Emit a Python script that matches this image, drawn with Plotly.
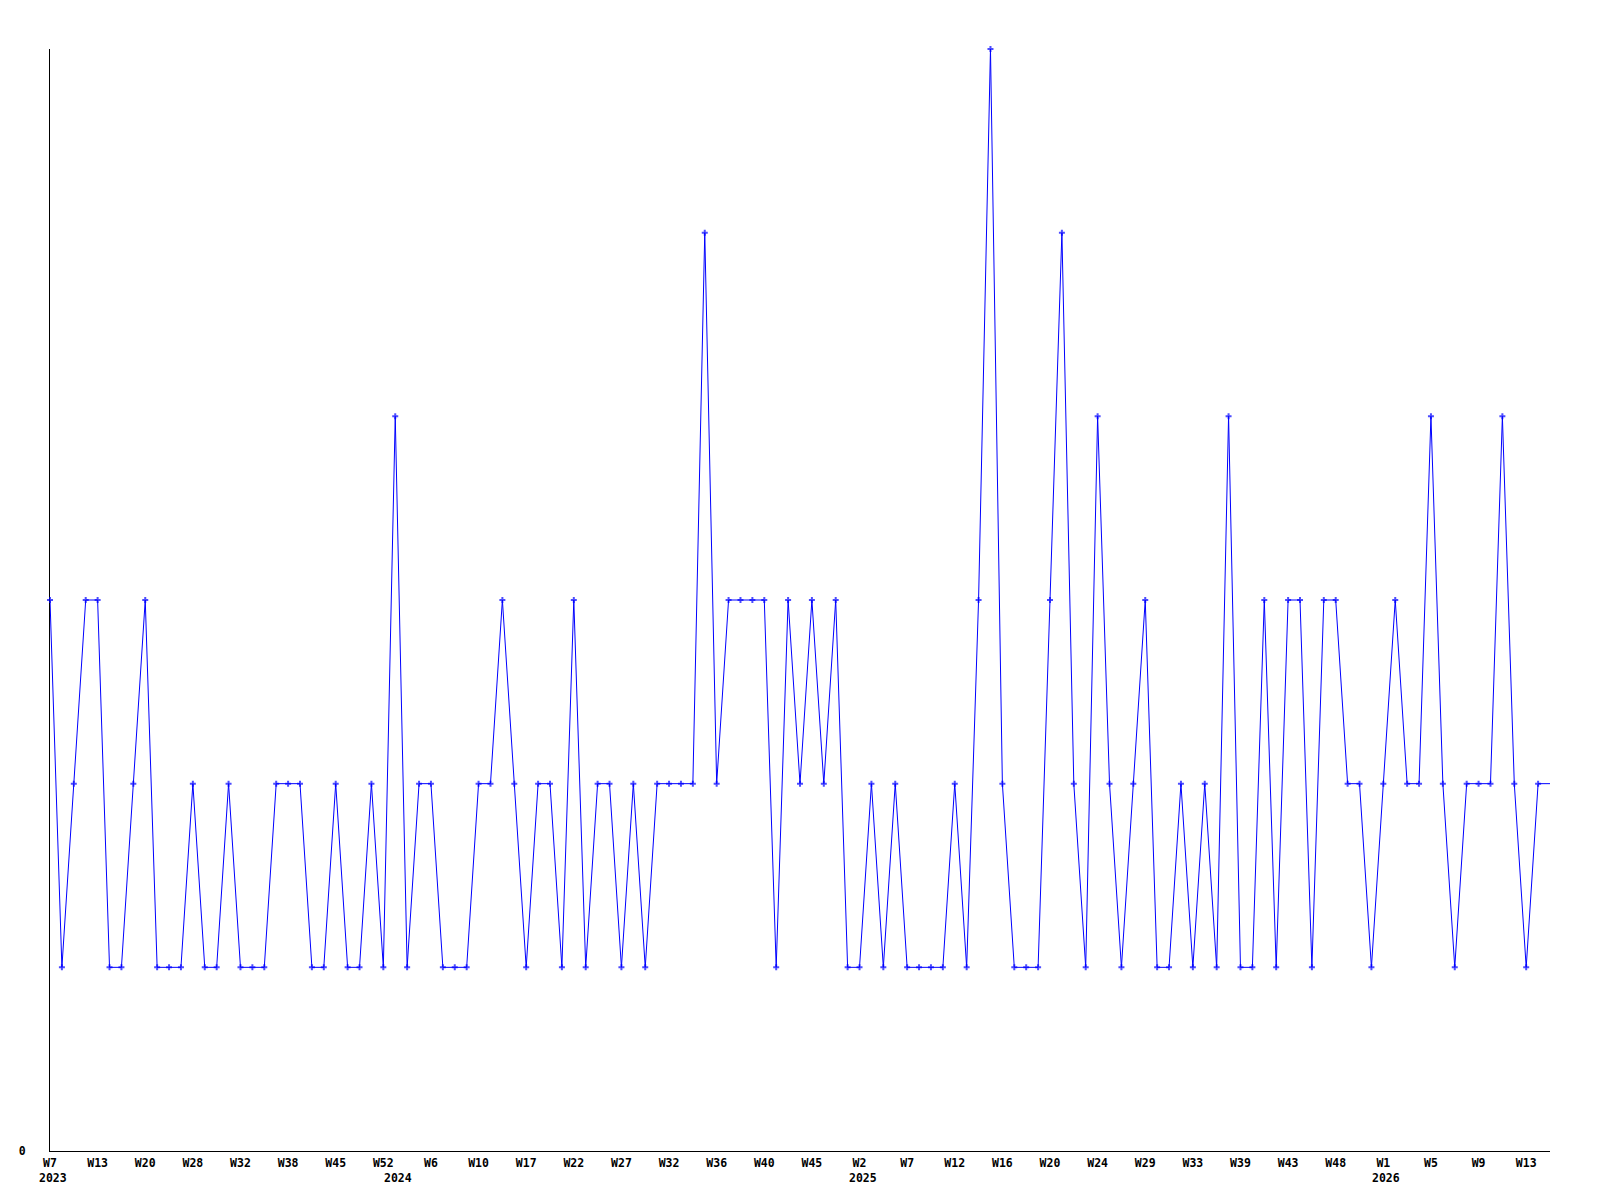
import plotly.graph_objects as go

# Weekly counts, in order of appearance (only weeks that have data)
values = [3, 1, 2, 3, 3, 1, 1, 2, 3, 1,
          1, 1, 2, 1, 1, 2, 1, 1, 1, 2,
          2, 2, 1, 1, 2, 1, 1, 2, 1, 4,
          1, 2, 2, 1, 1, 1, 2, 2, 3, 2,
          1, 2, 2, 1, 3, 1, 2, 2, 1, 2,
          1, 2, 2, 2, 2, 5, 2, 3, 3, 3,
          3, 1, 3, 2, 3, 2, 3, 1, 1, 2,
          1, 2, 1, 1, 1, 1, 2, 1, 3, 6,
          2, 1, 1, 1, 3, 5, 2, 1, 4, 2,
          1, 2, 3, 1, 1, 2, 1, 2, 1, 4,
          1, 1, 3, 1, 3, 3, 1, 3, 3, 2,
          2, 1, 2, 3, 2, 2, 4, 2, 1, 2,
          2, 2, 4, 2, 1, 2, 2]

# Week labels shown every 4th point
tick_labels = ["W7", "W13", "W20", "W28", "W32", "W38", "W45", "W52",
               "W6", "W10", "W17", "W22", "W27", "W32", "W36", "W40",
               "W45", "W2", "W7", "W12", "W16", "W20", "W24", "W29",
               "W33", "W39", "W43", "W48", "W1", "W5", "W9", "W13"]
tick_step = 4

# Year labels and the point index where each year starts
years = ["2023", "2024", "2025", "2026"]
year_start_index = [0, 29, 68, 112]

positions = list(range(len(values)))
tick_positions = positions[::tick_step][:len(tick_labels)]

# the last (current, partial) point is drawn without a marker
marker_sizes = [5] * (len(values) - 1) + [0]

font = dict(family="DejaVu Sans Mono", size=11.5, color="black", weight="bold")

fig = go.Figure()
fig.add_trace(go.Scatter(
    x=positions, y=values, mode="lines+markers",
    line=dict(color="#0000FF", width=1),
    marker=dict(symbol="cross", size=marker_sizes, color="#0000FF",
                line=dict(width=0)),
    cliponaxis=False,
    hoverinfo="y", showlegend=False,
))

for yr, idx in zip(years, year_start_index):
    fig.add_annotation(x=idx, xref="x", y=0, yref="paper", text=yr,
                       showarrow=False, xanchor="center", yanchor="top",
                       xshift=3, yshift=-18, font=font)

fig.update_layout(
    width=1600, height=1200,
    margin=dict(l=50, r=50, t=49, b=49),
    paper_bgcolor="white", plot_bgcolor="white",
    font=font,
    xaxis=dict(range=[0, len(values) - 1], tickmode="array",
               tickvals=tick_positions, ticktext=tick_labels,
               showgrid=False, zeroline=False, showline=True,
               linecolor="black", linewidth=1, ticks="",
               ticklabelstandoff=1, tickfont=font, layer="below traces"),
    yaxis=dict(range=[0, 6], tickmode="array", tickvals=[0], ticktext=["0"],
               showgrid=False, zeroline=False, showline=True,
               linecolor="black", linewidth=1, ticks="",
               ticklabelstandoff=21, tickfont=font, layer="below traces"),
)

fig.write_html("out.html", config={"displayModeBar": False})

# remove the default page margin so the figure sits at the window origin
with open("out.html", "r", encoding="utf-8") as f:
    html = f.read()
html = html.replace("<head>", "<head><style>body{margin:0;}</style>", 1)
with open("out.html", "w", encoding="utf-8") as f:
    f.write(html)
